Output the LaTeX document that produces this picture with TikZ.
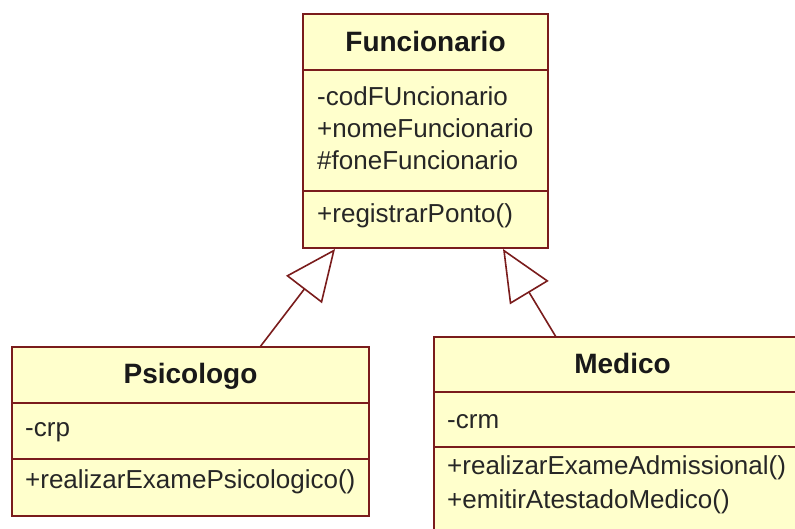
\documentclass[tikz,border=0pt]{standalone}
\usepackage{fontspec}
\setmainfont{Liberation Sans}
\usetikzlibrary{arrows.meta}
\definecolor{umlfill}{RGB}{255,255,204}
\definecolor{umlline}{RGB}{122,28,28}
\begin{document}
\begin{tikzpicture}[x=1pt,y=-1pt,
 classbox/.style={draw=umlline, fill=umlfill, line width=2pt, rectangle, inner sep=0pt},
 classtitle/.style={font=\fontsize{28}{32}\selectfont\bfseries, anchor=base, inner sep=0pt, text=black!90},
 member/.style={font=\fontsize{26}{32}\selectfont, anchor=base west, inner sep=0pt, text=black!85},
 sepline/.style={draw=umlline, line width=2pt},
 gen/.style={draw=umlline, line width=1.6pt, -{Triangle[open, length=51pt, width=45pt, line width=1.6pt]}}
]
\clip (0,0) rectangle (795,529);
\fill[white] (0,0) rectangle (795,529);

% Funcionario
\node[classbox, minimum width=245pt, minimum height=234pt] (func) at (425.5,131) {};
\draw[sepline] (303,70) -- (548,70);
\draw[sepline] (303,191) -- (548,191);
\node[classtitle] (funcT) at (425.5,52) {Funcionario};
\node[member] (funcA1) at (317,106) {-codFUncionario};
\node[member] (funcA2) at (317,138) {+nomeFuncionario};
\node[member] (funcA3) at (317,170) {\#foneFuncionario};
\node[member] (funcM1) at (317,223) {+registrarPonto()};

% Psicologo
\node[classbox, minimum width=357pt, minimum height=169pt] (psic) at (190.5,431.5) {};
\draw[sepline] (12,403) -- (369,403);
\draw[sepline] (12,459) -- (369,459);
\node[classtitle] (psicT) at (190.5,383) {Psicologo};
\node[member] (psicA1) at (25,436) {-crp};
\node[member] (psicM1) at (25,488) {+realizarExamePsicologico()};

% Medico
\node[classbox, minimum width=378pt, minimum height=223pt] (med) at (623,448.5) {};
\draw[sepline] (434,392) -- (812,392);
\draw[sepline] (434,447) -- (812,447);
\node[classtitle] (medT) at (622.5,373) {Medico};
\node[member] (medA1) at (447,428) {-crm};
\node[member] (medM1) at (447,474) {+realizarExameAdmissional()};
\node[member] (medM2) at (447,508) {+emitirAtestadoMedico()};

% generalizations
\coordinate (psicTop) at (260,347);
\coordinate (funcBotL) at (335,249);
\coordinate (medTop) at (556,337);
\coordinate (funcBotR) at (503,249);
\draw[gen] (psicTop) -- (funcBotL);
\draw[gen] (medTop) -- (funcBotR);
\end{tikzpicture}
\end{document}
